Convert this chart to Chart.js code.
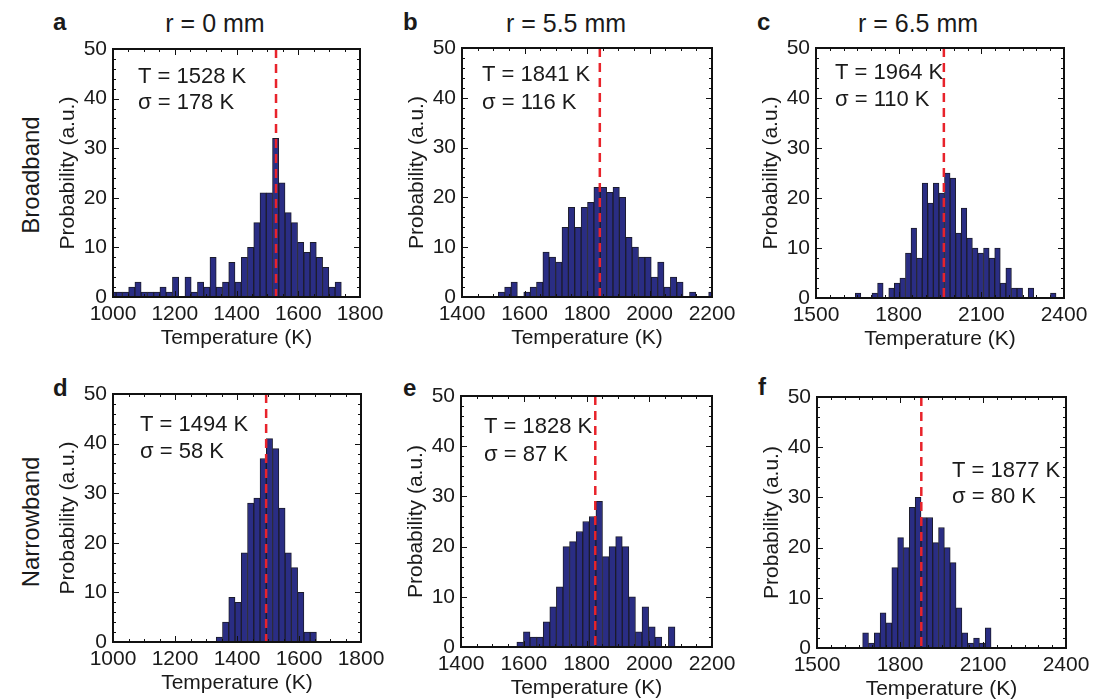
<!DOCTYPE html>
<html>
<head>
<meta charset="utf-8">
<script src="https://cdn.jsdelivr.net/npm/chart.js@4.4.0/dist/chart.umd.min.js"></script>
<style>
  html, body { margin: 0; padding: 0; background: #fff; overflow: hidden; }
  body { width: 1094px; height: 699px; position: relative; font-family: "Liberation Sans", Arial, sans-serif; color: #1a1a1a; }
  canvas { position: absolute; }
  .lbl { position: absolute; line-height: 1; white-space: nowrap; }
  .col { font-size: 25px; transform: translateX(-50%); }
  .tag { font-size: 24px; font-weight: bold; }
  .row { font-size: 24px; transform: translate(-50%, -50%) rotate(-90deg); }
</style>
</head>
<body>
<div class="lbl col" style="left:215px;top:11px">r = 0 mm</div>
<div class="lbl col" style="left:566px;top:11px">r = 5.5 mm</div>
<div class="lbl col" style="left:918px;top:11px">r = 6.5 mm</div>
<div class="lbl tag" style="left:53px;top:10px">a</div>
<div class="lbl tag" style="left:403px;top:10px">b</div>
<div class="lbl tag" style="left:757px;top:10px">c</div>
<div class="lbl tag" style="left:53px;top:376px">d</div>
<div class="lbl tag" style="left:403px;top:376px">e</div>
<div class="lbl tag" style="left:758px;top:375px">f</div>
<div class="lbl row" style="left:31px;top:175px">Broadband</div>
<div class="lbl row" style="left:31px;top:522px">Narrowband</div>

<script>
// histogram counts per panel
const countsA = [1, 1, 1, 2, 3, 1, 1, 1, 2, 1, 4, 0, 4, 1, 3, 2, 8, 2, 3, 7, 3, 8, 10, 15, 21, 21, 32, 23, 17, 15, 11, 9, 11, 8, 6, 2, 3];
const countsB = [1, 2, 3, 0, 1, 2, 3, 9, 8, 7, 14, 18, 14, 18, 19, 22, 22, 21, 22, 20, 12, 10, 8, 8, 4, 7, 2, 4, 3, 0, 1, 0, 0, 1];
const countsC = [1, 0, 0, 1, 3, 0, 2, 3, 4, 9, 14, 8, 23, 19, 23, 21, 25, 24, 13, 18, 12, 10, 9, 10, 8, 10, 3, 6, 2, 2, 0, 2, 0, 0, 0, 1];
const countsD = [1, 4, 9, 8, 18, 28, 29, 37, 41, 39, 27, 18, 15, 10, 2, 2];
const countsE = [1, 3, 2, 2, 5, 8, 12, 20, 21, 23, 25, 26, 29, 18, 20, 22, 20, 10, 3, 8, 4, 2, 0, 4];
const countsF = [3, 1, 3, 7, 5, 16, 22, 20, 28, 30, 26, 26, 21, 24, 20, 17, 8, 3, 1, 2, 1, 4];
const allCounts = [countsA, countsB, countsC, countsD, countsE, countsF];

// bin edges (K)
const binStart = [989.9, 1516, 1642.5, 1333, 1578, 1665];
const binWidth = [20.26, 20.4, 20.24, 20.2, 21.0, 21.1];

// mean temperature and spread
const meanT = [1528, 1841, 1964, 1494, 1828, 1877];
const sigmaT = [178, 116, 110, 58, 87, 80];

// axes
const xMins = [1000, 1400, 1500, 1000, 1400, 1500];
const xMaxs = [1800, 2200, 2400, 1800, 2200, 2400];
const xSteps = [200, 200, 300, 200, 200, 300];
const yMax = 50;
const yStep = 10;

// layout of each plot box on the page
const boxes = [
  { left: 113, top: 49, w: 247, h: 248 },
  { left: 462, top: 48, w: 250, h: 249 },
  { left: 816, top: 48, w: 248, h: 250 },
  { left: 113, top: 394, w: 248, h: 248 },
  { left: 461, top: 396, w: 251, h: 251 },
  { left: 817, top: 397, w: 249, h: 251 }
];
const notePos = [[25, 28, 54], [20, 27, 55], [19, 25, 52], [27, 31, 58], [23, 31, 59], [135, 74, 100]];

const AXIS_W = 60, AXIS_H = 54, PAD_T = 14, PAD_R = 26;
const ink = '#1a1a1a';

Chart.defaults.font.family = '"Liberation Sans", Arial, sans-serif';
Chart.defaults.color = ink;

function makeFrame(i) {
  return {
    id: 'frame' + i,
    afterDatasetsDraw(chart) {
      const { ctx, chartArea: a } = chart;
      const xs = chart.scales.x, ys = chart.scales.y;
      ctx.save();
      ctx.strokeStyle = '#111';
      ctx.lineWidth = 1;
      ctx.beginPath();
      for (let v = xMins[i]; v <= xMaxs[i]; v += 50) {
        const px = Math.round(xs.getPixelForValue(v)) + 0.5;
        const len = (v - xMins[i]) % xSteps[i] === 0 ? 6 : 3;
        ctx.moveTo(px, a.bottom); ctx.lineTo(px, a.bottom - len);
        ctx.moveTo(px, a.top); ctx.lineTo(px, a.top + len);
      }
      for (let v = 0; v <= yMax; v += 2) {
        const py = Math.round(ys.getPixelForValue(v)) + 0.5;
        const len = v % yStep === 0 ? 6 : 3;
        ctx.moveTo(a.left, py); ctx.lineTo(a.left + len, py);
        ctx.moveTo(a.right, py); ctx.lineTo(a.right - len, py);
      }
      ctx.stroke();
      ctx.lineWidth = 2;
      ctx.strokeRect(a.left, a.top, a.right - a.left, a.bottom - a.top);

      const n = notePos[i];
      ctx.fillStyle = ink;
      ctx.font = '22px "Liberation Sans", Arial, sans-serif';
      ctx.textBaseline = 'middle';
      ctx.textAlign = 'left';
      ctx.fillText('T = ' + meanT[i] + ' K', a.left + n[0], a.top + n[1]);
      ctx.fillText('\u03c3 = ' + sigmaT[i] + ' K', a.left + n[0], a.top + n[2]);
      ctx.restore();
    }
  };
}

boxes.forEach((b, i) => {
  const canvas = document.createElement('canvas');
  const W = AXIS_W + b.w + PAD_R;
  const H = PAD_T + b.h + AXIS_H;
  canvas.width = W;
  canvas.height = H;
  canvas.style.width = W + 'px';
  canvas.style.height = H + 'px';
  canvas.style.left = (b.left - AXIS_W) + 'px';
  canvas.style.top = (b.top - PAD_T) + 'px';
  document.body.appendChild(canvas);

  const bars = allCounts[i].map((c, k) => ({
    x: binStart[i] + (k + 0.5) * binWidth[i],
    y: c === 0 ? null : c
  }));

  new Chart(canvas, {
    type: 'bar',
    data: {
      datasets: [
        {
          type: 'line',
          data: [{ x: meanT[i], y: yMax }, { x: meanT[i], y: 0 }],
          borderColor: '#e8232b',
          borderWidth: 2.5,
          borderDash: [9, 6],
          pointRadius: 0,
          order: 0,
          clip: 0
        },
        {
          type: 'bar',
          data: bars,
          backgroundColor: '#2a2d84',
          borderColor: '#1c1c2c',
          borderWidth: 1,
          barPercentage: 1,
          categoryPercentage: 1,
          order: 1,
          clip: 0
        }
      ]
    },
    options: {
      responsive: false,
      animation: false,
      devicePixelRatio: 1,
      layout: { autoPadding: false, padding: { left: 0, top: PAD_T, right: PAD_R, bottom: 0 } },
      plugins: { legend: { display: false }, tooltip: { enabled: false } },
      scales: {
        x: {
          type: 'linear',
          min: xMins[i],
          max: xMaxs[i],
          offset: false,
          grid: { display: false, drawTicks: false, offset: false },
          border: { display: false },
          ticks: { stepSize: xSteps[i], padding: 5, maxRotation: 0, autoSkip: false, font: { size: 21 }, color: ink, callback: v => String(v) },
          title: { display: true, text: 'Temperature (K)', font: { size: 21 }, color: ink, padding: 0 },
          afterFit: s => { s.height = AXIS_H; s.paddingLeft = 0; s.paddingRight = 0; }
        },
        y: {
          min: 0,
          max: yMax,
          grid: { display: false, drawTicks: false },
          border: { display: false },
          ticks: { stepSize: yStep, padding: 6, font: { size: 21 }, color: ink, callback: v => String(v) },
          title: { display: true, text: 'Probability (a.u.)', font: { size: 21 }, color: ink, padding: { top: 3, bottom: 0 } },
          afterFit: s => { s.width = AXIS_W; s.paddingTop = 0; s.paddingBottom = 0; }
        }
      }
    },
    plugins: [makeFrame(i)]
  });
});
</script>
</body>
</html>
